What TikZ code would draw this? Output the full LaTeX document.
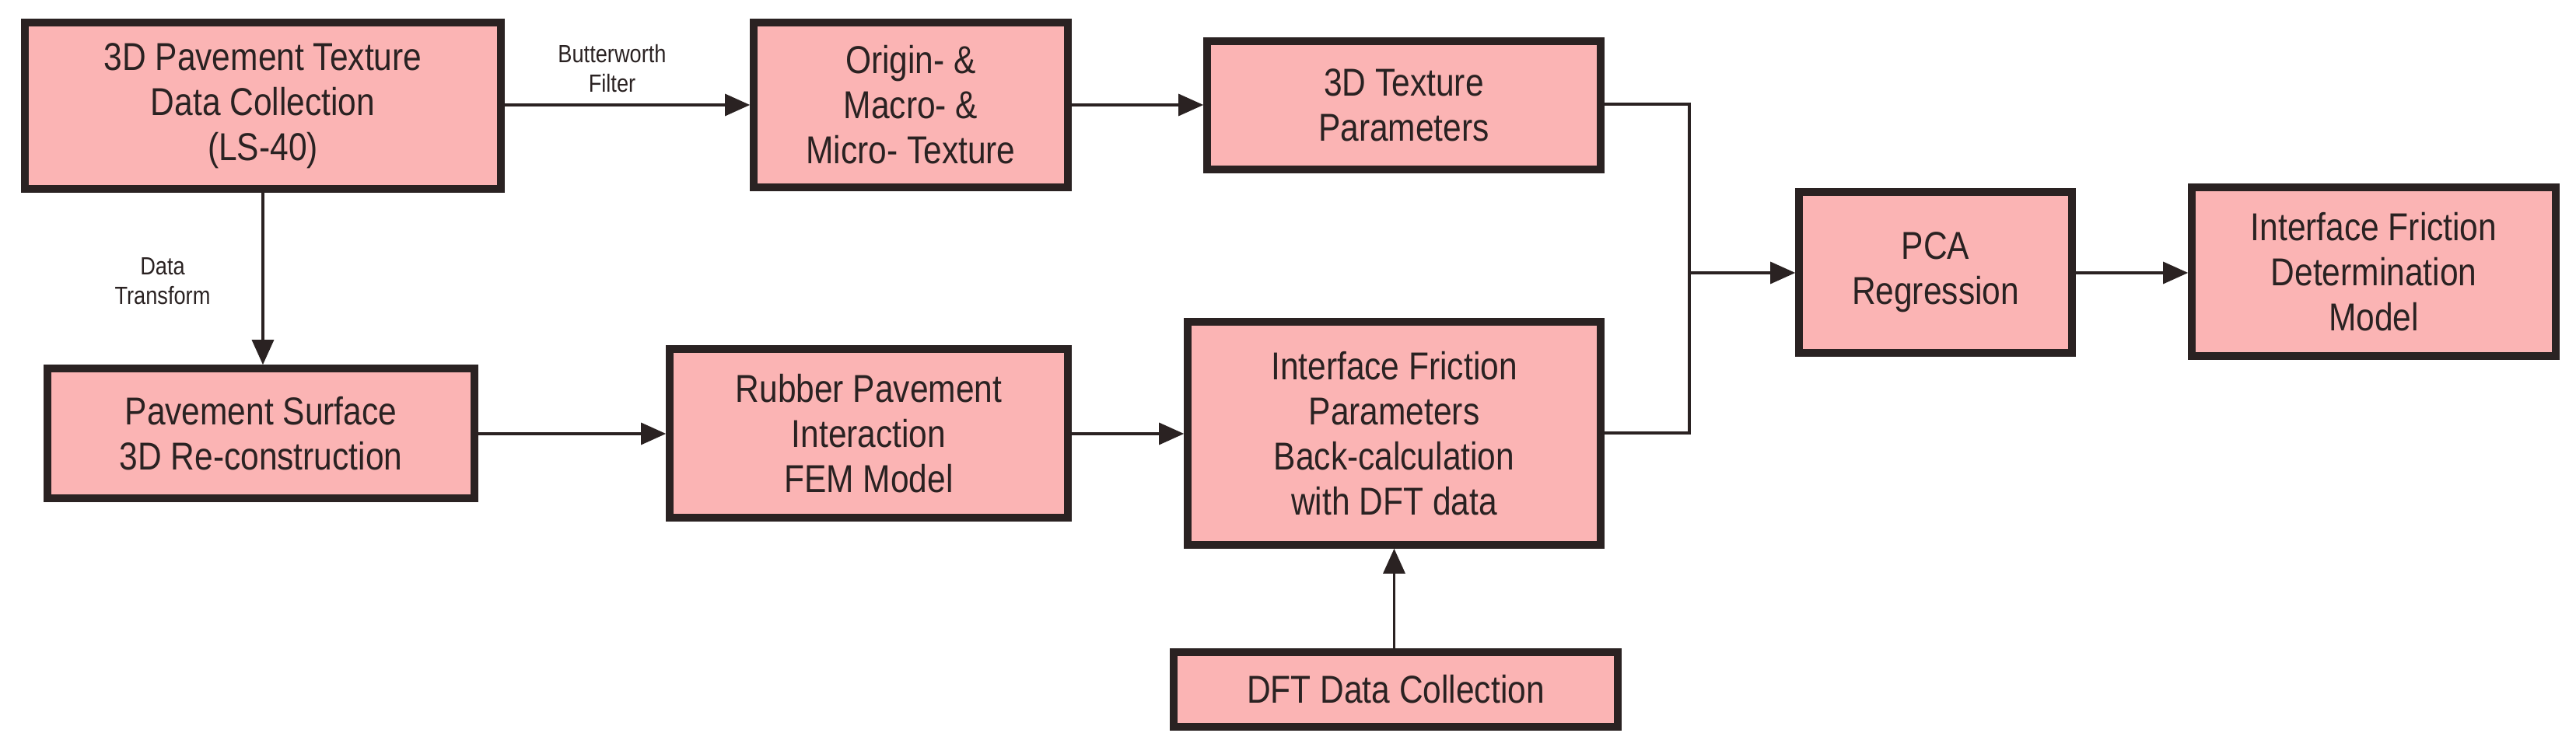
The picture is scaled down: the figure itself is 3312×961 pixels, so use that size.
\documentclass[tikz,border=0pt]{standalone}
\usepackage{fontspec}
\setmainfont{Liberation Sans}[FakeStretch=0.85]
\usetikzlibrary{arrows.meta}
\definecolor{boxfill}{HTML}{FBB4B4}
\definecolor{ink}{HTML}{2A2222}
\begin{document}
\begin{tikzpicture}[x=0.25pt,y=-0.25pt,
  box/.style={draw=ink,fill=boxfill,line width=2.4pt,align=center,inner sep=0pt,
    font=\fontsize{12.5}{14.5}\selectfont,text=ink},
  arr/.style={draw=ink,line width=0.8pt,-{Triangle[length=8pt,width=7pt]}},
  ln/.style={draw=ink,line width=0.8pt},
  lab/.style={font=\fontsize{8}{9.5}\selectfont,text=ink,align=center}]
\useasboundingbox (0,0) rectangle (3312,961);
\newcommand{\bx}[6]{\node[box,minimum width={(#4-#2)*0.25pt},minimum height={(#5-#3)*0.25pt}] (#1) at ({(#2+#4)/2},{(#3+#5)/2}) {#6};}
\bx{A}{32}{29}{644}{243}{3D Pavement Texture\\Data Collection\\(LS-40)}
\bx{B}{969}{29}{1373}{241}{Origin- \&\\Macro- \&\\Micro- Texture}
\bx{C}{1552}{53}{2058}{218}{3D Texture\\Parameters}
\bx{D}{61}{474}{610}{641}{Pavement Surface\\3D Re-construction}
\bx{E}{861}{449}{1373}{666}{Rubber Pavement\\Interaction\\FEM Model}
\bx{F}{1527}{414}{2058}{701}{Interface Friction\\Parameters\\Back-calculation\\with DFT data}
\bx{G}{1509}{839}{2080}{935}{DFT Data Collection}
\bx{P}{2313}{247}{2664}{454}{PCA\\Regression}
\bx{M}{2818}{241}{3286}{458}{Interface Friction\\Determination\\Model}
\coordinate (J) at (2172,351);
\draw[arr] (A.east |- 0,135) -- (B.west |- 0,135);
\draw[arr] (B.east |- 0,135) -- (C.west |- 0,135);
\draw[arr] (A.south -| 338,0) -- (D.north -| 338,0);
\draw[arr] (D.east |- 0,558) -- (E.west |- 0,558);
\draw[arr] (E.east |- 0,558) -- (F.west |- 0,558);
\draw[arr] (G.north -| F.south) -- (F.south);
\draw[ln] (C.east |- 0,134) -| (J);
\draw[ln] (F.east |- 0,557) -| (J);
\draw[arr] (J) -- (P.west |- J);
\draw[arr] (P.east |- J) -- (M.west |- J);
\node[lab] (bw) at (787,88) {Butterworth\\Filter};
\node[lab] (dt) at (209,362) {Data\\Transform};
\end{tikzpicture}
\end{document}
